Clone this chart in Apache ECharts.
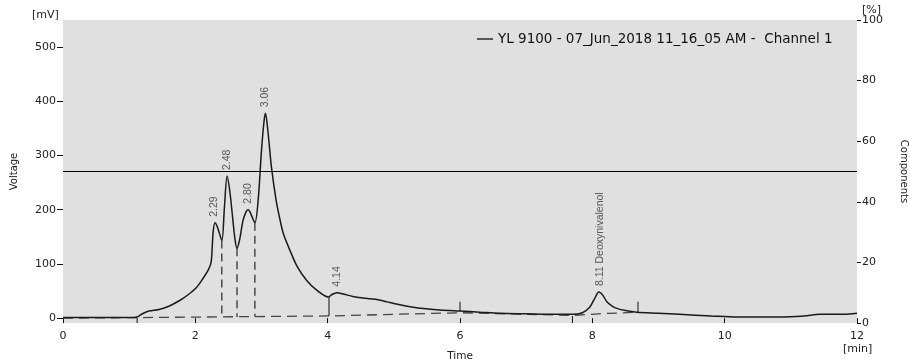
<!DOCTYPE html>
<html>
<head>
<meta charset="utf-8">
<script src="https://cdn.jsdelivr.net/npm/echarts@6/dist/echarts.min.js"></script>
<style>
  html, body { margin: 0; padding: 0; background: #fff; }
  #chart { width: 910px; height: 363px; }
</style>
</head>
<body>
<div id="chart"></div>
<script>
// chromatogram signal [min, mV]
const signal = [
  [0, 1], [0.5, 1], [1.0, 1], [1.12, 2], [1.2, 8], [1.3, 13], [1.45, 16],
  [1.6, 22], [1.77, 33], [1.9, 44], [2.02, 57], [2.12, 74], [2.2, 90],
  [2.24, 104], [2.27, 160], [2.3, 176], [2.34, 166], [2.4, 143],
  [2.44, 205], [2.48, 262], [2.52, 235], [2.56, 190], [2.6, 145], [2.63, 129],
  [2.67, 145], [2.72, 180], [2.77, 197], [2.8, 200], [2.84, 192], [2.9, 176],
  [2.95, 218], [3.0, 310], [3.04, 365], [3.06, 378], [3.1, 341], [3.15, 279],
  [3.22, 218], [3.27, 187], [3.33, 156], [3.43, 125], [3.54, 95], [3.68, 70],
  [3.83, 52], [4.01, 39], [4.07, 44], [4.14, 47], [4.25, 44], [4.38, 40],
  [4.6, 36], [4.76, 34], [4.9, 30], [5.0, 27], [5.2, 22], [5.4, 18],
  [5.7, 15], [6.0, 13], [6.3, 11], [6.6, 9], [7.0, 8], [7.4, 7], [7.7, 7],
  [7.85, 10], [7.96, 20], [8.03, 35], [8.1, 48], [8.16, 42], [8.22, 30],
  [8.3, 22], [8.37, 18], [8.5, 14], [8.67, 11], [9.0, 9], [9.32, 7],
  [9.8, 4], [10.19, 2], [10.5, 2], [10.84, 2], [11.2, 4], [11.44, 7],
  [11.8, 7], [12.0, 9]
];

// integration baseline (dashed)
const baseline = [[0, 0], [1.12, 1], [4.02, 4], [6.0, 10], [7.7, 5], [8.1, 8], [8.69, 11]];

// dashed drop lines between merged peaks
const dropTimes = [2.40, 2.63, 2.90];
const dropTops = [143, 129, 176];
const dropBases = [2, 2, 3];

// solid markers: [time, from, to]
const solidMarks = [[4.02, 39, 4], [6.0, 13, 30], [8.69, 11, 30], [1.12, 0, -9], [7.7, 4, -9]];

// peak labels
const peakTimes = [2.29, 2.48, 2.80, 3.06, 4.14, 8.11];
const peakHeights = [176, 262, 200, 378, 47, 48];
const peakNames = ['2.29', '2.48', '2.80', '3.06', '4.14', '8.11 Deoxynivalenol'];

// components threshold on the % axis
const componentsLevel = 50;

const voltTicks = [0, 100, 200, 300, 400, 500];
const legendName = 'YL 9100 - 07_Jun_2018 11_16_05 AM -  Channel 1';

const chart = echarts.init(document.getElementById('chart'), null, { renderer: 'canvas' });

const toSegments = (list) => {
  const out = [];
  list.forEach((s) => { out.push([s[0], s[1]], [s[0], s[2]], '-'); });
  return out;
};

const dropData = toSegments(dropTimes.map((t, i) => [t, dropTops[i], dropBases[i]]));
const solidData = toSegments(solidMarks);

const font = 'DejaVu Sans';
const txt = '#222';

const option = {
  animation: false,
  textStyle: { fontFamily: font },
  grid: {
    left: 63, right: 53, top: 20, bottom: 40,
    outerBoundsMode: 'none', containLabel: false,
    show: true, backgroundColor: '#e0e0e0', borderWidth: 0
  },
  legend: {
    data: [legendName],
    left: 472, top: 27,
    icon: 'rect', itemWidth: 16, itemHeight: 1.4, itemGap: 6,
    textStyle: { fontFamily: font, fontSize: 13.5, color: '#111' }
  },
  xAxis: {
    type: 'value', min: 0, max: 12, interval: 2,
    name: 'Time', nameLocation: 'middle', nameGap: 28,
    nameTextStyle: { fontFamily: font, fontSize: 10.5, color: txt },
    axisLine: { show: false },
    axisTick: { show: true, length: 5, lineStyle: { color: '#111' } },
    axisLabel: { margin: 8, fontSize: 11, color: txt, fontFamily: font },
    splitLine: { show: false }
  },
  yAxis: [
    {
      type: 'value', min: -9, max: 550,
      name: 'Voltage', nameLocation: 'middle', nameGap: 44,
      nameTextStyle: { fontFamily: font, fontSize: 10, color: txt },
      axisLine: { show: false },
      axisTick: { show: true, length: 6, customValues: voltTicks, lineStyle: { color: '#111' } },
      axisLabel: { margin: 7, fontSize: 11, color: txt, fontFamily: font, customValues: voltTicks },
      splitLine: { show: false }
    },
    {
      type: 'value', min: 0, max: 100, interval: 20, position: 'right',
      name: 'Components', nameLocation: 'middle', nameGap: 42, nameRotate: -90,
      nameTextStyle: { fontFamily: font, fontSize: 10, color: txt },
      axisLine: { show: false },
      axisTick: { show: true, length: 4, lineStyle: { color: '#111' } },
      axisLabel: { margin: 5, fontSize: 11, color: txt, fontFamily: font },
      splitLine: { show: false }
    }
  ],
  graphic: [
    { type: 'text', left: 32, top: 10, style: { text: '[mV]', font: '11px DejaVu Sans', fill: txt } },
    { type: 'text', left: 862, top: 5, style: { text: '[%]', font: '11px DejaVu Sans', fill: txt } },
    { type: 'text', left: 843, top: 344, style: { text: '[min]', font: '11px DejaVu Sans', fill: txt } }
  ],
  series: [
    {
      name: 'baseline', type: 'line', data: baseline, symbol: 'none', silent: true,
      lineStyle: { color: '#444', width: 1.3, type: [10, 6] }, z: 2
    },
    {
      name: 'drops', type: 'line', data: dropData, symbol: 'none', silent: true, connectNulls: false,
      lineStyle: { color: '#333', width: 1.3, type: [8, 5] }, z: 3
    },
    {
      name: 'marks', type: 'line', data: solidData, symbol: 'none', silent: true, connectNulls: false,
      lineStyle: { color: '#222', width: 1.1 }, z: 3
    },
    {
      name: legendName, type: 'line', data: signal, symbol: 'none', smooth: 0.3,
      lineStyle: { color: '#1a1a1a', width: 1.5 }, itemStyle: { color: '#1a1a1a' }, z: 4
    },
    {
      name: 'components', type: 'line', yAxisIndex: 1, symbol: 'none', silent: true,
      data: [[0, componentsLevel], [12, componentsLevel]],
      lineStyle: { color: '#000', width: 1.2 }, z: 4
    },
    {
      name: 'peaks', type: 'scatter', symbolSize: 0, silent: true,
      data: peakTimes.map((t, i) => ({ value: [t, peakHeights[i]], name: peakNames[i] })),
      label: {
        show: true, position: 'top', distance: 6, rotate: 90,
        align: 'left', verticalAlign: 'middle',
        formatter: (p) => p.name,
        fontFamily: 'Liberation Sans', fontSize: 10.5, color: '#333'
      },
      z: 5
    }
  ]
};

chart.setOption(option);
</script>
</body>
</html>
